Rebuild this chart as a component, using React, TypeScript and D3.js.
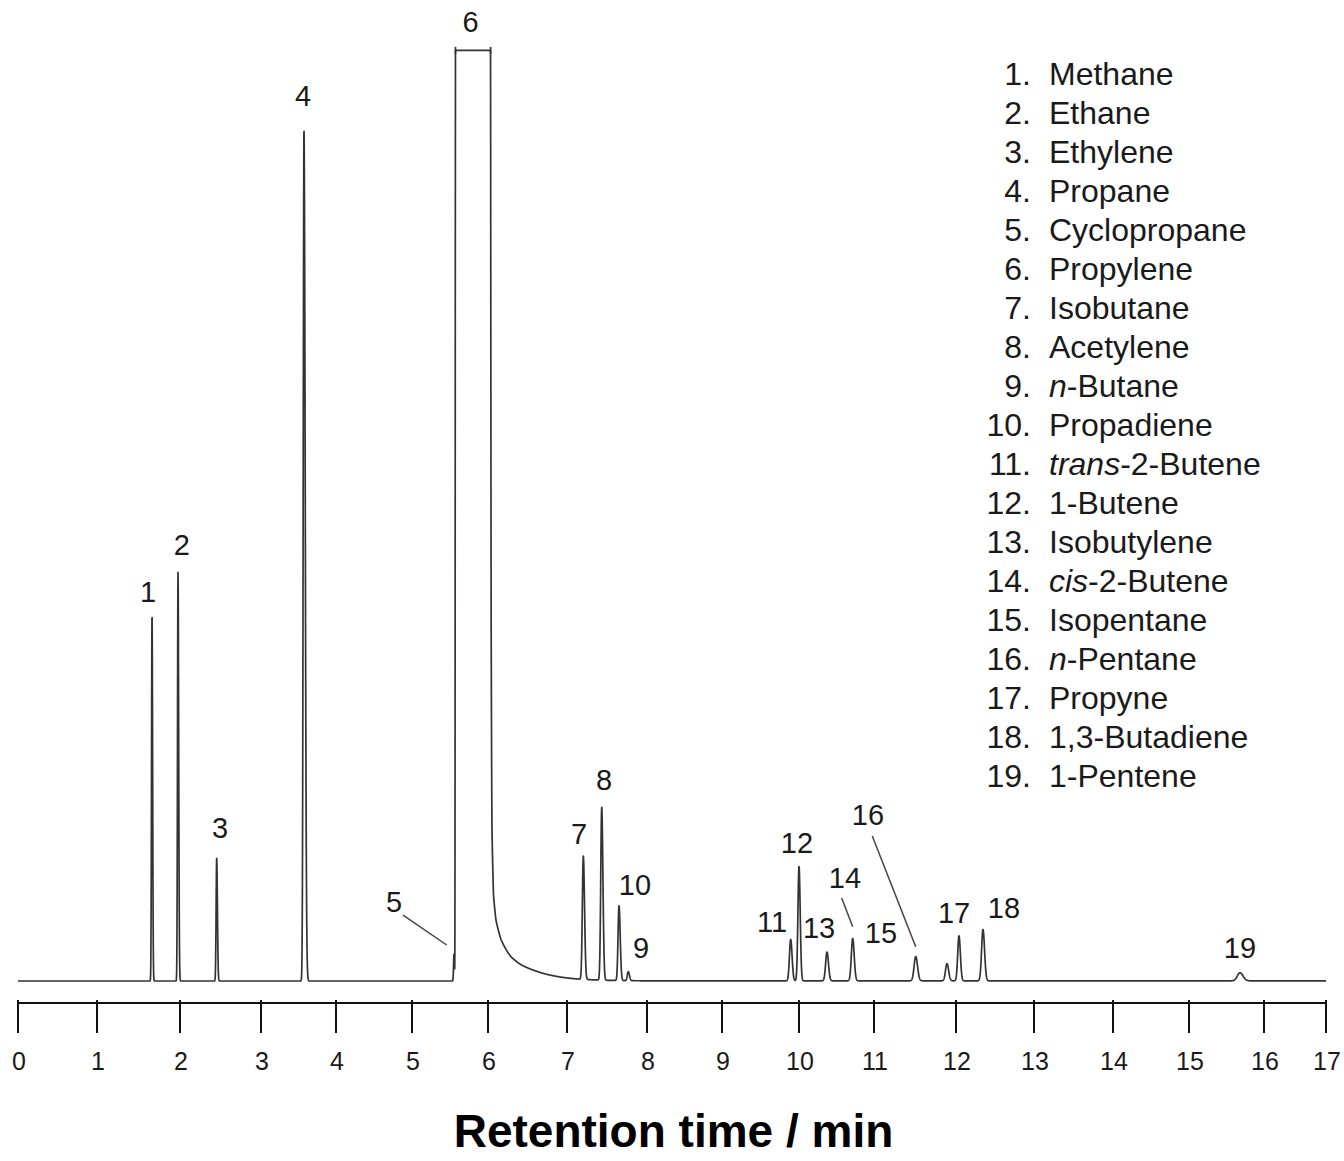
import React from "react";
import * as d3 from "d3";

// ---------- data ----------
const tickMinutes = d3.range(0, 18);
const tickLabels = tickMinutes.map((m) => String(m));

// resolved peaks (retention time in min, height in signal units, sigma in min)
const peakNames = ["1", "2", "3", "4", "5", "7", "8", "10", "9", "11", "12", "13", "14", "16", "15b", "17", "18", "19"];
const peakTimes = [1.663, 1.976, 2.453, 3.573, 5.553, 7.204, 7.434, 7.65, 7.766, 9.892, 10.0, 10.373, 10.716, 11.509, 11.89, 12.038, 12.346, 15.68];
const peakHeights = [40.8, 45.4, 13.7, 94.6, 3.0, 13.7, 19.2, 8.3, 1.0, 4.6, 12.7, 3.2, 4.7, 2.7, 1.9, 5.0, 5.7, 0.9];
const peakSigmaLeft = [0.006, 0.006, 0.007, 0.01, 0.006, 0.012, 0.012, 0.012, 0.012, 0.016, 0.014, 0.018, 0.018, 0.02, 0.018, 0.016, 0.018, 0.035];
const peakSigmaRight = [0.007, 0.008, 0.009, 0.016, 0.006, 0.015, 0.015, 0.015, 0.015, 0.018, 0.016, 0.02, 0.02, 0.022, 0.02, 0.018, 0.02, 0.04];

// overloaded propylene peak (6): clipped top, then tail
const propyleneStart = 5.572;
const propyleneEnd = 6.033;
const propyleneClip = 103.4;
const tailTimes = [6.033, 6.04, 6.05, 6.07, 6.1, 6.165, 6.29, 6.42, 6.61, 6.84, 7.14, 7.5, 8.0];
const tailValues = [103.4, 40, 17, 9.5, 6.8, 4.6, 2.7, 1.8, 1.1, 0.56, 0.22, 0.08, 0.02];

// peak number labels (data coordinates: time, signal)
const labelTexts = ["1", "2", "3", "4", "5", "6", "7", "8", "9", "10", "11", "12", "13", "14", "15", "16", "17", "18", "19"];
const labelTimes = [1.614, 2.024, 2.494, 3.56, 4.763, 5.77, 7.15, 7.4625, 7.925, 7.85, 9.649, 9.974, 10.267, 10.613, 11.085, 10.92, 11.976, 12.615, 15.68];
const labelValues = [42.1, 47.3, 15.9, 97.2, 7.67, 105.4, 15.2, 21.2, 2.56, 9.56, 5.44, 14.2, 4.78, 10.33, 4.22, 17.33, 6.44, 7.0, 2.56];

// leader lines (time, value) start and end
const leaderFrom = [[4.882, 7.33], [10.569, 9.22], [10.977, 16.1]];
const leaderTo = [[5.457, 4.0], [10.716, 6.03], [11.509, 3.81]];

// legend
const legendNumbers = d3.range(1, 20).map((n) => `${n}.`);
const legendItalic = ["", "", "", "", "", "", "", "", "n", "", "trans", "", "", "cis", "", "n", "", "", ""];
const legendNames = [
  "Methane", "Ethane", "Ethylene", "Propane", "Cyclopropane", "Propylene", "Isobutane", "Acetylene",
  "-Butane", "Propadiene", "-2-Butene", "1-Butene", "Isobutylene", "-2-Butene", "Isopentane",
  "-Pentane", "Propyne", "1,3-Butadiene", "1-Pentene",
];

const xTitle = "Retention time / min";

// ---------- component ----------
const FONT = "'Liberation Sans', Arial, Helvetica, sans-serif";

export default function App() {
  const W = 1344;
  const H = 1161;

  // the printed time axis is slightly non-uniform; calibrate per minute tick
  const x = d3
    .scaleLinear()
    .domain(tickMinutes)
    .range([18, 97, 180, 261, 336, 412, 488, 567, 647, 722, 799, 874, 956, 1034, 1113, 1189, 1264, 1326]);
  const y = d3.scaleLinear().domain([0, 100]).range([981, 81]);

  const logTail = d3
    .scaleLinear()
    .domain(tailTimes)
    .range(tailValues.map((v) => Math.log(v)))
    .clamp(true);

  const propylene = (t: number) => {
    if (t < propyleneStart) return propyleneClip * Math.exp(-0.5 * ((t - propyleneStart) / 0.003) ** 2);
    if (t <= propyleneEnd) return propyleneClip;
    return Math.exp(logTail(t));
  };

  const signal = (t: number) => {
    let v = propylene(t);
    for (let i = 0; i < peakTimes.length; i++) {
      const d = t - peakTimes[i];
      const s = d < 0 ? peakSigmaLeft[i] : peakSigmaRight[i];
      if (Math.abs(d) < 8 * s) v += peakHeights[i] * Math.exp(-0.5 * (d / s) ** 2);
    }
    return Math.min(v, propyleneClip);
  };

  const times = d3.range(0, 17.0001, 0.002);
  const pts: [number, number][] = times.map((t) => [t, signal(t)]);
  const line = d3
    .line<[number, number]>()
    .x((d) => x(d[0]))
    .y((d) => y(d[1]));

  const axisY = 1003;

  return (
    <svg
      width={W}
      height={H}
      viewBox={`0 0 ${W} ${H}`}
      style={{ position: "absolute", left: 0, top: 0, background: "#fff" }}
    >
      <rect x={0} y={0} width={W} height={H} fill="#fff" />

      {/* chromatogram trace */}
      <path d={line(pts) || ""} fill="none" stroke="#333" strokeWidth={1.7} strokeLinejoin="round" />

      {/* bracket serifs on clipped peak 6 */}
      {[propyleneStart, propyleneEnd].map((t, i) => (
        <line
          key={`serif-${i}`}
          x1={x(t)}
          x2={x(t)}
          y1={y(propyleneClip) - 3.5}
          y2={y(propyleneClip) + 3.5}
          stroke="#333"
          strokeWidth={1.7}
        />
      ))}

      {/* leader lines */}
      {leaderFrom.map((f, i) => (
        <line
          key={`lead-${i}`}
          x1={x(f[0])}
          y1={y(f[1])}
          x2={x(leaderTo[i][0])}
          y2={y(leaderTo[i][1])}
          stroke="#444"
          strokeWidth={1.5}
        />
      ))}

      {/* peak labels */}
      {labelTexts.map((t, i) => (
        <text
          key={`lab-${i}`}
          x={x(labelTimes[i])}
          y={y(labelValues[i])}
          textAnchor="middle"
          fontFamily={FONT}
          fontSize={29}
          fill="#1a1a1a"
        >
          {t}
        </text>
      ))}

      {/* x axis */}
      <line x1={x(0)} x2={x(17)} y1={axisY} y2={axisY} stroke="#111" strokeWidth={2.2} />
      {tickMinutes.map((m, i) => (
        <g key={`tick-${m}`}>
          <line x1={x(m)} x2={x(m)} y1={axisY - 3} y2={axisY + 30} stroke="#111" strokeWidth={2} />
          <text
            x={x(m) + 1}
            y={1070}
            textAnchor="middle"
            fontFamily={FONT}
            fontSize={25}
            fill="#1a1a1a"
          >
            {tickLabels[i]}
          </text>
        </g>
      ))}

      {/* axis title */}
      <text
        x={673.5}
        y={1147}
        textAnchor="middle"
        fontFamily={FONT}
        fontSize={46}
        fontWeight="bold"
        fill="#000"
      >
        {xTitle}
      </text>

      {/* legend */}
      {legendNames.map((name, i) => (
        <g key={`leg-${i}`}>
          <text
            x={1031}
            y={85 + i * 39}
            textAnchor="end"
            fontFamily={FONT}
            fontSize={32}
            fill="#1a1a1a"
          >
            {legendNumbers[i]}
          </text>
          <text x={1049} y={85 + i * 39} fontFamily={FONT} fontSize={32} fill="#1a1a1a">
            {legendItalic[i] ? <tspan fontStyle="italic">{legendItalic[i]}</tspan> : null}
            <tspan>{name}</tspan>
          </text>
        </g>
      ))}
    </svg>
  );
}
